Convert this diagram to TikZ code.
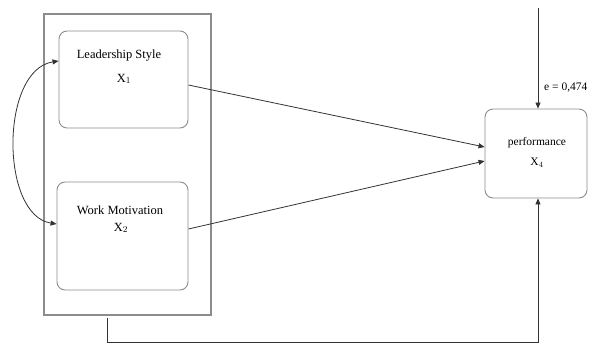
\documentclass[tikz,border=0pt]{standalone}
\usepackage{fontspec}
\setmainfont{Liberation Serif}
\usetikzlibrary{arrows.meta}
\begin{document}
\begin{tikzpicture}[x=1pt,y=-1pt,
  frame/.style={draw=black!45,line width=1.2pt},
  var/.style={draw=black!45,line width=0.9pt,rounded corners=8pt,align=center},
  conn/.style={draw=black!80,line width=0.8pt},
  arr/.style={conn,-{Triangle[length=6pt,width=5pt]}},
  lbl/.style={font=\fontsize{12.5}{14}\selectfont,align=center}]
\useasboundingbox (0,0) rectangle (590,343);
\node[frame,minimum width=167pt,minimum height=301pt,inner sep=0pt] (outer) at (127.5,164.5) {};
\node[var,minimum width=129pt,minimum height=97pt,inner sep=0pt] (ls) at (123.5,79.5) {};
\node[lbl] (lst) at (119,56) {Leadership Style};
\node[lbl] (lsx) at (124,79) {X$_1$};
\node[var,minimum width=131pt,minimum height=108pt,inner sep=0pt] (wm) at (122.5,236) {};
\node[lbl] (wmt) at (120,210) {Work Motivation};
\node[lbl] (wmx) at (121,228) {X$_2$};
\node[var,minimum width=102pt,minimum height=89pt,inner sep=0pt] (pf) at (536,153.5) {};
\node[lbl,font=\fontsize{11.5}{13}\selectfont] (pft) at (537,143) {performance};
\node[lbl,font=\fontsize{11.5}{13}\selectfont] (pfx) at (537,163) {X$_4$};
\coordinate (etop) at (538,8);
\coordinate (b1) at (107,318);
\coordinate (b2) at (107,342);
\coordinate (b3) at (538,342);
\node[anchor=west,font=\fontsize{11.5}{13}\selectfont,inner sep=0pt] (elbl) at (544,88) {e = 0,474};
\draw[arr] (ls.east |- 0,85) -- (pf.west |- 0,147);
\draw[arr] (wm.east |- 0,229) -- (pf.west |- 0,161);
\draw[arr] (etop) -- (pf.north -| etop);
\draw[arr] (b1) -- (b2) -- (b3) -- (pf.south -| b3);
\draw[conn,{Triangle[length=6pt,width=5pt]}-{Triangle[length=6pt,width=5pt]}] (ls.west |- 0,61) .. controls (0,70) and (0,215) .. (wm.west |- 0,224);
\end{tikzpicture}
\end{document}
